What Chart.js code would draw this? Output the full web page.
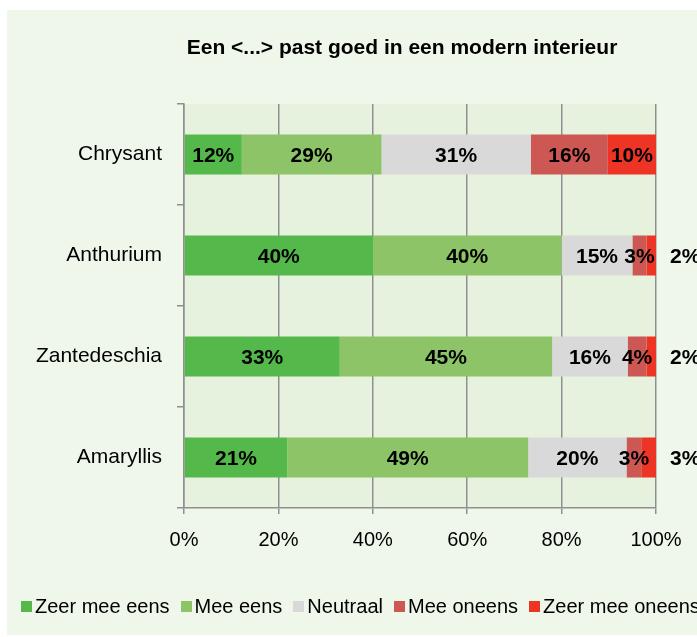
<!DOCTYPE html>
<html>
<head>
<meta charset="utf-8">
<script src="https://cdn.jsdelivr.net/npm/chart.js@4.4.0/dist/chart.umd.min.js"></script>
<style>
  body { margin: 0; background: #fff; }
  #wrap { position: relative; width: 697px; height: 637px; overflow: hidden; }
  #legend {
    position: absolute; left: 21px; top: 595px;
    display: flex; align-items: center; white-space: nowrap;
    font: 20px "Liberation Sans", Arial, sans-serif; color: #000;
  }
  #legend .item { display: flex; align-items: center; margin-right: 11px; }
  #legend .box { width: 11px; height: 11px; margin-right: 3px; }
</style>
</head>
<body>
<div id="wrap">
  <canvas id="chart" width="697" height="637"></canvas>
  <div id="legend"></div>
</div>
<script>
const categories = ["Chrysant", "Anthurium", "Zantedeschia", "Amaryllis"];
const seriesNames = ["Zeer mee eens", "Mee eens", "Neutraal", "Mee oneens", "Zeer mee oneens"];
const zeerMeeEens = [12, 40, 33, 21];
const meeEens = [29, 40, 45, 49];
const neutraal = [31, 15, 16, 20];
const meeOneens = [16, 3, 4, 3];
const zeerMeeOneens = [10, 2, 2, 3];
const xTicks = [0, 20, 40, 60, 80, 100];
const titleText = "Een <...> past goed in een modern interieur";

const colors = ["#55b84a", "#8cc467", "#d9d9d9", "#cd5853", "#ee3424"];
const allSeries = [zeerMeeEens, meeEens, neutraal, meeOneens, zeerMeeOneens];
const font = '"Liberation Sans", Arial, sans-serif';
const gridColor = "#8f8f8f";

// 100% stacked: each bar is scaled to its own total
const totals = categories.map((c, j) => allSeries.reduce((s, arr) => s + arr[j], 0));

const bgPlugin = {
  id: "bgPlugin",
  beforeDraw(chart) {
    const ctx = chart.ctx;
    const a = chart.chartArea;
    ctx.save();
    ctx.fillStyle = "#eff7ea";
    ctx.fillRect(7, 10, 690, 625);
    ctx.fillStyle = "#e6f2dd";
    ctx.fillRect(a.left, a.top, a.right - a.left, a.bottom - a.top);
    ctx.fillStyle = "#000";
    ctx.font = "bold 21px " + font;
    ctx.textAlign = "center";
    ctx.textBaseline = "alphabetic";
    ctx.fillText(titleText, 402, 54);
    ctx.restore();
  }
};

const labelPlugin = {
  id: "labelPlugin",
  afterDatasetsDraw(chart) {
    const ctx = chart.ctx;
    const a = chart.chartArea;
    ctx.save();
    ctx.font = "bold 21px " + font;
    ctx.fillStyle = "#000";
    ctx.textBaseline = "middle";
    allSeries.forEach((arr, i) => {
      const meta = chart.getDatasetMeta(i);
      meta.data.forEach((bar, j) => {
        const v = arr[j];
        let x = (bar.x + bar.base) / 2;
        ctx.textAlign = "center";
        if (i === allSeries.length - 1 && v < 5) {
          x = a.right + 14;
          ctx.textAlign = "left";
        }
        ctx.fillText(v + "%", x, bar.y + 2);
      });
    });
    ctx.restore();
  }
};

new Chart(document.getElementById("chart"), {
  type: "bar",
  data: {
    labels: categories,
    datasets: allSeries.map((arr, i) => ({
      label: seriesNames[i],
      data: arr.map((v, j) => v / totals[j] * 100),
      backgroundColor: colors[i],
      borderWidth: 0,
      barPercentage: 0.396,
      categoryPercentage: 1
    }))
  },
  options: {
    indexAxis: "y",
    responsive: false,
    animation: false,
    layout: { padding: { left: 0, right: 41, top: 104, bottom: 79 } },
    plugins: {
      legend: { display: false },
      title: { display: false },
      tooltip: { enabled: false }
    },
    scales: {
      x: {
        stacked: true,
        min: xTicks[0],
        max: xTicks[xTicks.length - 1],
        afterBuildTicks(scale) { scale.ticks = xTicks.map(v => ({ value: v })); },
        afterFit(scale) { scale.height = 50; },
        ticks: {
          callback: v => v + "%",
          color: "#000",
          font: { family: font, size: 20 },
          padding: 14
        },
        grid: { color: gridColor, lineWidth: 1.5, tickLength: 6, drawOnChartArea: true },
        border: { display: true, color: gridColor, width: 1.5 }
      },
      y: {
        stacked: true,
        afterFit(scale) { scale.width = 184; },
        ticks: {
          color: "#000",
          font: { family: font, size: 21 },
          padding: 15
        },
        grid: { color: gridColor, lineWidth: 1.5, tickLength: 7, drawOnChartArea: false, offset: true },
        border: { display: true, color: gridColor, width: 1.5 }
      }
    }
  },
  plugins: [bgPlugin, labelPlugin]
});

const legend = document.getElementById("legend");
seriesNames.forEach((name, i) => {
  const item = document.createElement("span");
  item.className = "item";
  const box = document.createElement("span");
  box.className = "box";
  box.style.background = colors[i];
  const txt = document.createElement("span");
  txt.textContent = name;
  item.appendChild(box);
  item.appendChild(txt);
  legend.appendChild(item);
});
</script>
</body>
</html>
